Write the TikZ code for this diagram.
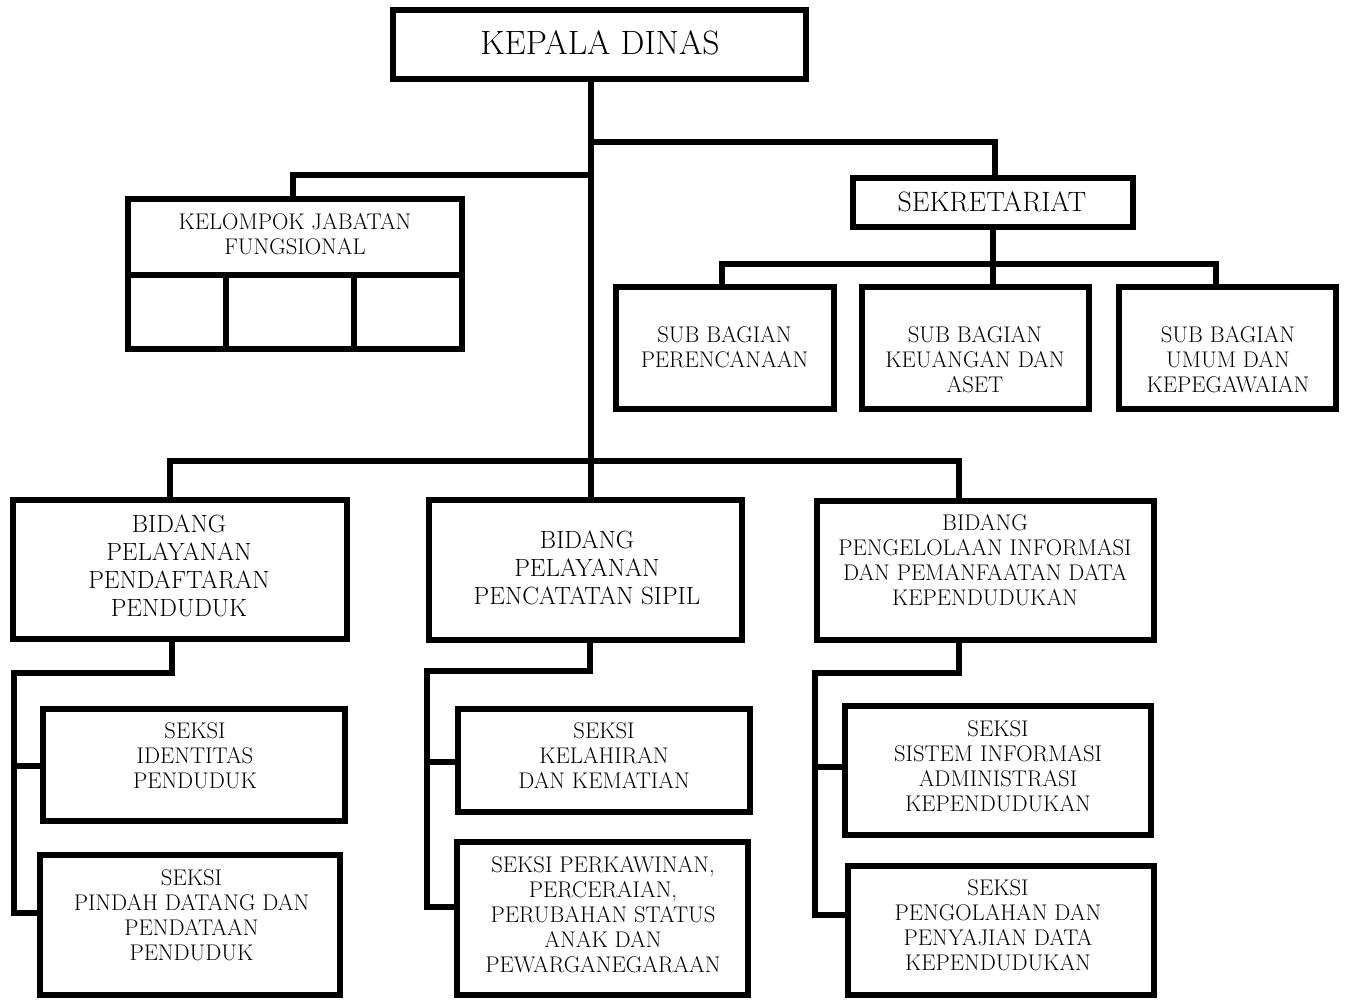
\documentclass[tikz,border=0pt]{standalone}
\usepackage{fontspec}
\usetikzlibrary{fit}
\tikzset{
  box/.style={draw, line width=4.5pt, inner sep=0pt, line join=miter},
  conn/.style={draw, line width=4pt, line join=miter},
  txt/.style={align=center, inner sep=0pt, font=\fontsize{17}{18.75}\selectfont},
  txtbig/.style={align=center, inner sep=0pt, font=\fontsize{18.7}{21}\selectfont},
}
\begin{document}
\begin{tikzpicture}[x=0.75pt,y=-0.75pt]
\useasboundingbox (0,0) rectangle (1349,1000);
% boxes
\node[box, fit={(393,10) (806,79)}] (kd) {};
\node[box, fit={(128,199) (462,349)}] (kjf) {};
\node[box, fit={(853,178) (1133,227)}] (sek) {};
\node[box, fit={(616,287) (834,409)}] (sb1) {};
\node[box, fit={(862,287) (1089,409)}] (sb2) {};
\node[box, fit={(1119,287) (1336,409)}] (sb3) {};
\node[box, fit={(13,500) (347,639)}] (b1) {};
\node[box, fit={(429,500) (742,640)}] (b2) {};
\node[box, fit={(817,501) (1154,640)}] (b3) {};
\node[box, fit={(43,709) (345,821)}] (s11) {};
\node[box, fit={(40,855) (340,995)}] (s12) {};
\node[box, fit={(458,709) (750,812)}] (s21) {};
\node[box, fit={(457,842) (748,995)}] (s22) {};
\node[box, fit={(845,706) (1151,835)}] (s31) {};
\node[box, fit={(848,866) (1154,995)}] (s32) {};
% KJF inner cells
\coordinate (dv1) at (226,275);
\coordinate (dv2) at (354,275);
\draw[box] (kjf.west |- dv1) -- (kjf.east |- dv1);
\draw[box] (dv1) -- (dv1 |- kjf.south);
\draw[box] (dv2) -- (dv2 |- kjf.south);
% texts
\node[txt, font=\fontsize{25.3}{29}\selectfont] (tkd) at (600,42.5) {KEPALA DINAS};
\node[txt] (tkjf) at (295,234) {KELOMPOK JABATAN\\FUNGSIONAL};
\node[txt, font=\fontsize{21}{25}\selectfont] (tsek) at (992,201.5) {SEKRETARIAT};
\node[txt] (tsb1) at (724.5,347.5) {SUB BAGIAN\\PERENCANAAN};
\node[txt] (tsb2) at (975,360) {SUB BAGIAN\\KEUANGAN DAN\\ASET};
\node[txt] (tsb3) at (1228,360) {SUB BAGIAN\\UMUM DAN\\KEPEGAWAIAN};
\node[txtbig] (tb1) at (179,566) {BIDANG\\PELAYANAN\\PENDAFTARAN\\PENDUDUK};
\node[txtbig] (tb2) at (587,568) {BIDANG\\PELAYANAN\\PENCATATAN SIPIL};
\node[txt] (tb3) at (985,560.5) {BIDANG\\PENGELOLAAN INFORMASI\\DAN PEMANFAATAN DATA\\KEPENDUDUKAN};
\node[txt] (ts11) at (195,756) {SEKSI\\IDENTITAS\\PENDUDUK};
\node[txt] (ts12) at (191.5,915.5) {SEKSI\\PINDAH DATANG DAN\\PENDATAAN\\PENDUDUK};
\node[txt] (ts21) at (604,756) {SEKSI\\KELAHIRAN\\DAN KEMATIAN};
\node[txt] (ts22) at (603,915) {SEKSI PERKAWINAN,\\PERCERAIAN,\\PERUBAHAN STATUS\\ANAK DAN\\PEWARGANEGARAAN};
\node[txt] (ts31) at (998,766) {SEKSI\\SISTEM INFORMASI\\ADMINISTRASI\\KEPENDUDUKAN};
\node[txt] (ts32) at (998,925.5) {SEKSI\\PENGOLAHAN DAN\\PENYAJIAN DATA\\KEPENDUDUKAN};
% connector coordinates
\coordinate (tk) at (591,461);
\coordinate (ra) at (995,142);
\coordinate (la) at (293,175);
\coordinate (sbL) at (722,264);
\coordinate (sbM) at (993,264);
\coordinate (sbR) at (1216,264);
\coordinate (bL) at (170,461);
\coordinate (bR) at (959,461);
\coordinate (c1a) at (172,673);
\coordinate (c1b) at (14,673);
\coordinate (c1m) at (14,766);
\coordinate (c1c) at (14,913);
\coordinate (c2a) at (590,671);
\coordinate (c2b) at (427,671);
\coordinate (c2m) at (427,762);
\coordinate (c2c) at (427,907);
\coordinate (c3a) at (959,673);
\coordinate (c3b) at (815,673);
\coordinate (c3m) at (815,767);
\coordinate (c3c) at (815,915);
% connectors
\draw[conn] (kd.south -| tk) -- (tk);
\draw[conn] (tk |- ra) -- (ra) -- (sek.north -| ra);
\draw[conn] (tk |- la) -- (la) -- (kjf.north -| la);
\draw[conn] (sek.south -| sbM) -- (sbM);
\draw[conn] (sb1.north -| sbL) -- (sbL) -- (sbR) -- (sb3.north -| sbR);
\draw[conn] (sbM) -- (sb2.north -| sbM);
\draw[conn] (b1.north -| bL) -- (bL) -- (bR) -- (b3.north -| bR);
\draw[conn] (tk) -- (b2.north -| tk);
\draw[conn] (b1.south -| c1a) -- (c1a) -- (c1b) -- (c1c) -- (s12.west |- c1c);
\draw[conn] (c1m) -- (s11.west |- c1m);
\draw[conn] (b2.south -| c2a) -- (c2a) -- (c2b) -- (c2c) -- (s22.west |- c2c);
\draw[conn] (c2m) -- (s21.west |- c2m);
\draw[conn] (b3.south -| c3a) -- (c3a) -- (c3b) -- (c3c) -- (s32.west |- c3c);
\draw[conn] (c3m) -- (s31.west |- c3m);
\end{tikzpicture}
\end{document}
